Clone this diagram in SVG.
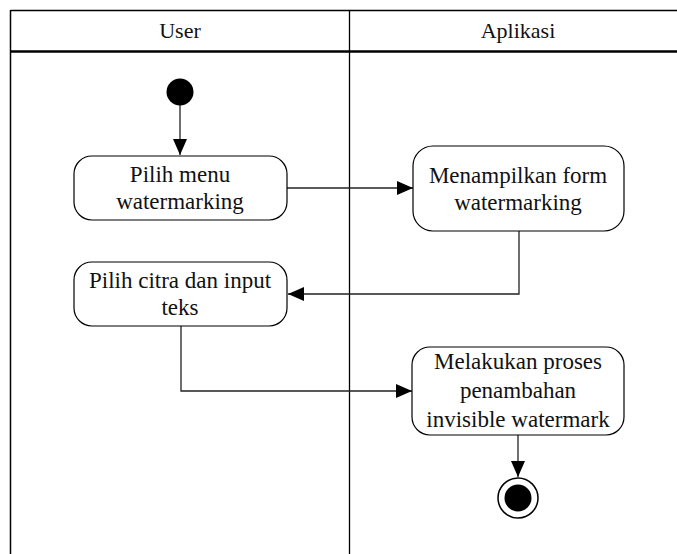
<svg xmlns="http://www.w3.org/2000/svg" width="677" height="554" viewBox="0 0 677 554">
<style>
.frame{stroke:#000;fill:none}
.node rect{fill:#fff;stroke:#000;stroke-width:1.2}
.txt{font-family:"Liberation Serif","Times New Roman",serif;font-size:23px;fill:#111;text-anchor:middle}
.conn path{fill:none;stroke:#222;stroke-width:1.3}
</style>
<defs>
<marker id="arr" viewBox="0 0 16 14" refX="16" refY="7" markerWidth="16" markerHeight="14" markerUnits="userSpaceOnUse" orient="auto">
<path d="M0,0 L16,7 L0,14 Z" fill="#000"/>
</marker>
</defs>
<rect width="677" height="554" fill="#fff"/>
<g id="swimlanes">
<line class="frame" x1="10.5" y1="10.5" x2="677" y2="10.5" stroke-width="1.5"/>
<line class="frame" x1="10.5" y1="10" x2="10.5" y2="554" stroke-width="1.5"/>
<line class="frame" x1="10" y1="51.5" x2="677" y2="51.5" stroke-width="2.5"/>
<line class="frame" x1="349.5" y1="10" x2="349.5" y2="554" stroke-width="1.3"/>
<text class="txt" x="180" y="38" style="font-size:22px">User</text>
<text class="txt" x="518" y="38" style="font-size:22px">Aplikasi</text>
</g>
<g class="conn" id="connectors">
<path d="M180,105 L180,155" marker-end="url(#arr)"/>
<path d="M287,188 L413,188" marker-end="url(#arr)"/>
<path d="M519,231 L519,294 L288,294" marker-end="url(#arr)"/>
<path d="M181,326 L181,391 L412,391" marker-end="url(#arr)"/>
<path d="M518,435 L518,477" marker-end="url(#arr)"/>
</g>
<g id="start">
<circle cx="180" cy="92" r="13.5" fill="#000"/>
</g>
<g id="n1" class="node">
<rect x="74" y="156" width="213" height="64" rx="18"/>
<text class="txt" x="180" y="182">Pilih menu</text>
<text class="txt" x="180" y="209">watermarking</text>
</g>
<g id="n2" class="node">
<rect x="413" y="146" width="211" height="85" rx="20"/>
<text class="txt" x="518" y="183">Menampilkan form</text>
<text class="txt" x="518" y="210">watermarking</text>
</g>
<g id="n3" class="node">
<rect x="74" y="262" width="213" height="64" rx="18"/>
<text class="txt" x="180" y="288">Pilih citra dan input</text>
<text class="txt" x="180" y="315">teks</text>
</g>
<g id="n4" class="node">
<rect x="412" y="347" width="212" height="88" rx="18"/>
<text class="txt" x="518" y="369">Melakukan proses</text>
<text class="txt" x="518" y="398">penambahan</text>
<text class="txt" x="518" y="427">invisible watermark</text>
</g>
<g id="end">
<circle cx="518" cy="498" r="20" fill="#fff" stroke="#000" stroke-width="1.5"/>
<circle cx="518" cy="498" r="13.5" fill="#000"/>
</g>
</svg>
